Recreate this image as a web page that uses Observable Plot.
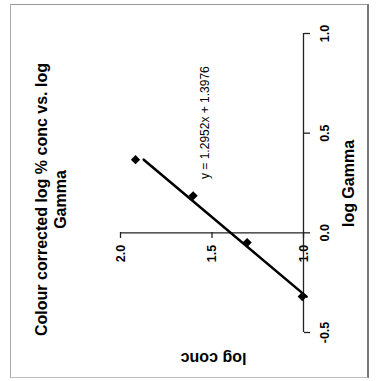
<!DOCTYPE html>
<html>
<head>
<meta charset="utf-8">
<script src="https://cdn.jsdelivr.net/npm/d3@7"></script>
<script src="https://cdn.jsdelivr.net/npm/@observablehq/plot@0.6"></script>
<style>
  html, body { margin: 0; padding: 0; background: #fff; }
  #wrap { position: relative; width: 376px; height: 381px; overflow: hidden; }
  #border { position: absolute; left: 10px; top: 4px; width: 359px; height: 374px;
            border-top: 1.5px solid #999; border-left: 1.5px solid #aaa;
            border-right: 2px solid #777; border-bottom: 1.5px solid #bbb; box-sizing: border-box; }
  #wrap svg { position: absolute; left: 0; top: 0; }
</style>
</head>
<body>
<div id="wrap"><div id="border"></div></div>
<script>
// Data (chart is drawn rotated: log Gamma runs upward, log conc runs leftward)
const logGamma = [0.367, 0.186, -0.049, -0.320];
const logConc  = [1.918, 1.603, 1.308, 1.007];
const gammaTicks = [-0.5, 0.0, 0.5, 1.0];
const concTicks  = [1.0, 1.5, 2.0];
const slope = 1.2952;
const intercept = 1.3976;
const titleText = "Colour corrected log % conc vs. log\nGamma";
const equationText = "y = 1.2952x + 1.3976";
const equationAt = {gamma: 0.553, conc: 1.536};
const xLabel = "log Gamma";
const yLabel = "log conc";

const points = logGamma.map((g, i) => ({g, c: logConc[i]}));
const fit = d3.extent(logGamma).map(g => ({g, c: slope * g + intercept}));
const fmt = d => d.toFixed(1);
const W = 376, H = 381;
const mid = {textAnchor: "middle", lineAnchor: "middle"};

const chart = Plot.plot({
  width: W,
  height: H,
  marginLeft: 120,
  marginRight: 73,
  marginTop: 33,
  marginBottom: 149,
  style: {fontFamily: "'Liberation Sans', Arial, sans-serif", color: "#000", background: "transparent", overflow: "visible"},
  x: {domain: [concTicks[0], concTicks[concTicks.length - 1]], reverse: true, axis: null},
  y: {domain: [gammaTicks[0], gammaTicks[gammaTicks.length - 1]], range: [332, 33], axis: null},
  marks: [
    // log conc axis (crosses at log Gamma = 0)
    Plot.ruleY([0], {x1: concTicks[0], x2: concTicks[concTicks.length - 1], stroke: "#222", strokeWidth: 1.3}),
    Plot.axisX({anchor: "bottom", ticks: concTicks, tickSize: 6, tickFormat: () => "", stroke: "#222", strokeWidth: 1.3, label: null}),
    Plot.text(concTicks, {x: d => d, frameAnchor: "bottom", dy: 21, rotate: -90, text: fmt, fontSize: 12.5, fontWeight: "bold", ...mid}),
    // log Gamma axis (at log conc = 1.0)
    Plot.ruleX([concTicks[0]], {y1: gammaTicks[0], y2: gammaTicks[gammaTicks.length - 1], stroke: "#222", strokeWidth: 1.3}),
    Plot.axisY({anchor: "right", ticks: gammaTicks, tickSize: 6, tickFormat: () => "", stroke: "#222", strokeWidth: 1.3, label: null}),
    Plot.text(gammaTicks, {y: d => d, frameAnchor: "right", dx: 21, rotate: -90, text: fmt, fontSize: 12.5, fontWeight: "bold", ...mid}),
    // regression line and points
    Plot.line(fit, {x: "c", y: "g", stroke: "#000", strokeWidth: 2.6}),
    Plot.dot(points, {x: "c", y: "g", symbol: "diamond2", r: 3.2, fill: "#000", stroke: "#000"}),
    // equation
    Plot.text([equationText], {x: equationAt.conc, y: equationAt.gamma, rotate: -90, text: d => d, fontSize: 12, ...mid}),
    // title and labels
    Plot.text([titleText], {frameAnchor: "left", dx: -70.5, dy: 66.5, rotate: -90, text: d => d, fontSize: 16, fontWeight: "bold", lineHeight: 1.2, ...mid}),
    Plot.text([xLabel], {frameAnchor: "right", dx: 45, dy: 50.5, rotate: -90, text: d => d, fontSize: 16, fontWeight: "bold", ...mid}),
    Plot.text([yLabel], {frameAnchor: "bottom", dx: 1.5, dy: 126, rotate: 180, text: d => d, fontSize: 16, fontWeight: "bold", ...mid})
  ]
});
document.getElementById("wrap").appendChild(chart);
</script>
</body>
</html>
